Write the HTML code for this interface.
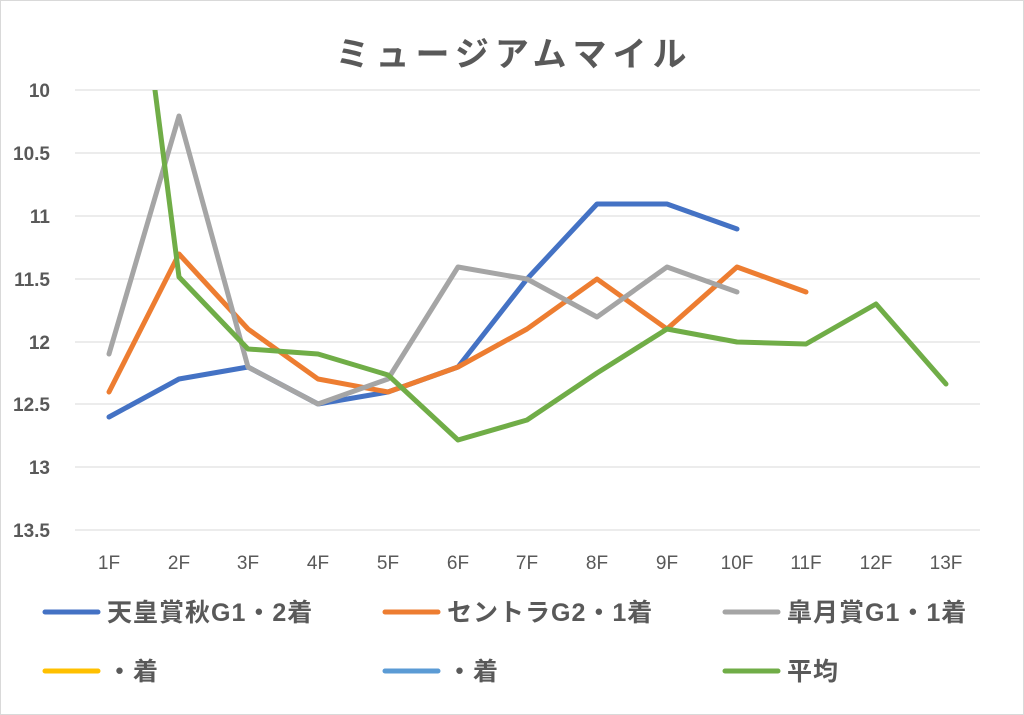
<!DOCTYPE html>
<html><head><meta charset="utf-8"><style>
body{margin:0;background:#fff;}
svg{display:block;font-family:"Liberation Sans","Noto Sans CJK JP",sans-serif;}
</style></head><body>
<svg width="1024" height="715" viewBox="0 0 1024 715" xmlns="http://www.w3.org/2000/svg">
<rect x="0.5" y="0.5" width="1023" height="714" fill="#fff" stroke="#d9d9d9"/>
<text x="514" y="66" text-anchor="middle" font-size="34" font-weight="bold" fill="#595959" letter-spacing="6">ミュージアムマイル</text>
<g stroke="#d9d9d9" stroke-width="1">
<line x1="75" x2="980" y1="90" y2="90"/><line x1="75" x2="980" y1="153" y2="153"/>
<line x1="75" x2="980" y1="216" y2="216"/><line x1="75" x2="980" y1="279" y2="279"/>
<line x1="75" x2="980" y1="342" y2="342"/><line x1="75" x2="980" y1="404" y2="404"/>
<line x1="75" x2="980" y1="467" y2="467"/><line x1="75" x2="980" y1="530" y2="530"/>
</g>
<g font-size="19" fill="#595959" text-anchor="end" font-weight="bold">
<text x="50" y="97">10</text><text x="50" y="160">10.5</text><text x="50" y="223">11</text>
<text x="50" y="286">11.5</text><text x="50" y="349">12</text><text x="50" y="411">12.5</text>
<text x="50" y="474">13</text><text x="50" y="537">13.5</text>
</g>
<g font-size="19" fill="#595959" text-anchor="middle">
<text x="109" y="569">1F</text><text x="179" y="569">2F</text><text x="248" y="569">3F</text>
<text x="318" y="569">4F</text><text x="388" y="569">5F</text><text x="458" y="569">6F</text>
<text x="527" y="569">7F</text><text x="597" y="569">8F</text><text x="667" y="569">9F</text>
<text x="737" y="569">10F</text><text x="806" y="569">11F</text><text x="876" y="569">12F</text>
<text x="946" y="569">13F</text>
</g>
<defs><clipPath id="c"><rect x="60" y="90" width="940" height="460"/></clipPath></defs>
<g fill="none" stroke-width="5" stroke-linejoin="round" stroke-linecap="round" clip-path="url(#c)">
<polyline stroke="#4472c4" points="109,417 179,379 248,367 318,404 388,392 458,367 527,279 597,204 667,204 737,229"/>
<polyline stroke="#ed7d31" points="109,392 179,254 248,329 318,379 388,392 458,367 527,329 597,279 667,329 737,267 806,292"/>
<polyline stroke="#a5a5a5" points="109,354 179,116 248,367 318,404 388,379 458,267 527,279 597,317 667,267 737,292"/>
<polyline stroke="#70ad47" points="109,-268 179,277 248,349 318,354 388,375 458,440 527,420 597,373 667,329 737,342 806,344 876,304 946,384"/>
</g>
<g stroke-width="5" stroke-linecap="round">
<line x1="45" x2="98" y1="612" y2="612" stroke="#4472c4"/>
<line x1="385" x2="438" y1="612" y2="612" stroke="#ed7d31"/>
<line x1="725" x2="778" y1="612" y2="612" stroke="#a5a5a5"/>
<line x1="45" x2="98" y1="671" y2="671" stroke="#ffc000"/>
<line x1="385" x2="438" y1="671" y2="671" stroke="#5b9bd5"/>
<line x1="725" x2="778" y1="671" y2="671" stroke="#70ad47"/>
</g>
<g font-size="25" fill="#595959" font-weight="bold" letter-spacing="1">
<text x="107" y="621">天皇賞秋G1・2着</text>
<text x="447" y="621">セントラG2・1着</text>
<text x="787" y="621">皐月賞G1・1着</text>
<text x="107" y="680">・着</text>
<text x="447" y="680">・着</text>
<text x="787" y="680">平均</text>
</g>
</svg>
</body></html>
